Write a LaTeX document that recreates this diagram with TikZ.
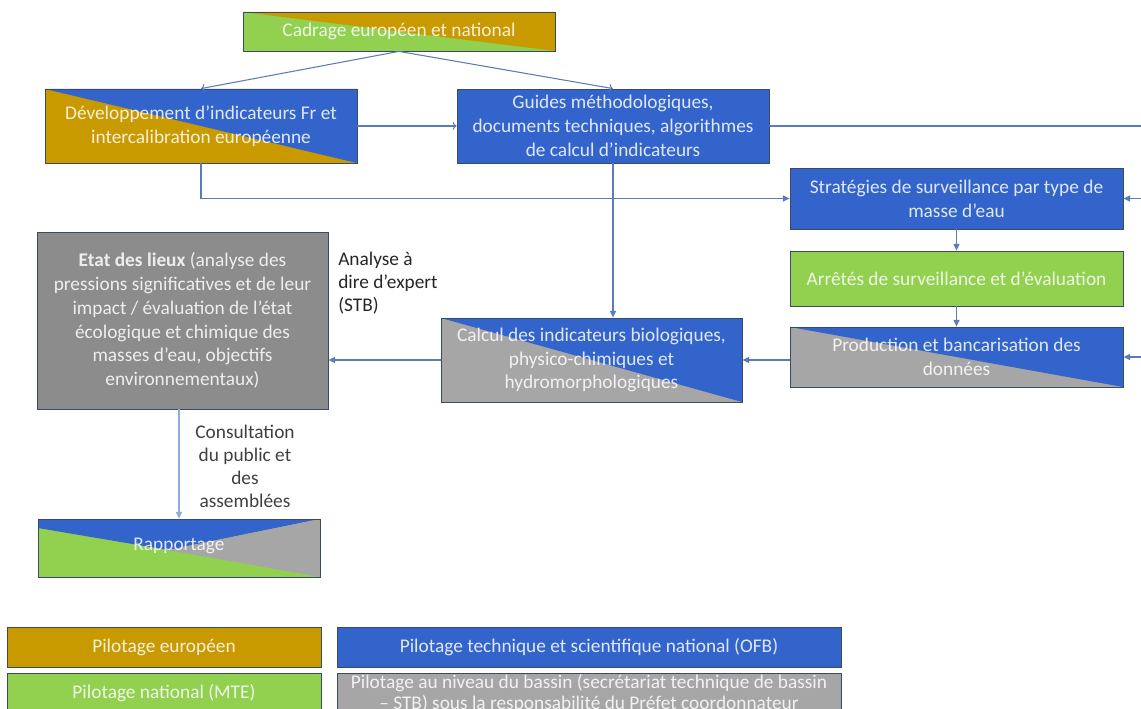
\documentclass[tikz,border=0pt]{standalone}
\usepackage{fontspec}
\setmainfont{Carlito}
\usetikzlibrary{calc,arrows.meta}
\definecolor{cgold}{RGB}{201,153,0}
\definecolor{cgreen}{RGB}{146,208,80}
\definecolor{cblue}{RGB}{50,100,204}
\definecolor{cgray}{RGB}{166,166,166}
\definecolor{cdgray}{RGB}{140,140,140}
\definecolor{cborder}{RGB}{60,75,100}
\definecolor{cline}{RGB}{90,125,185}
\definecolor{clight}{RGB}{143,170,220}
\begin{document}
\begin{tikzpicture}[x=0.75pt,y=-0.75pt,
  box/.style={draw=cborder, line width=0.6pt, text=white, text opacity=0.85,
    align=center, font=\fontsize{14.5}{17.8}\selectfont, inner sep=0pt},
  legbox/.style={box, font=\fontsize{14.5}{15.75}\selectfont},
  upright/.style={path picture={\fill[#1] (path picture bounding box.north west)
    -- (path picture bounding box.north east) -- (path picture bounding box.south east) -- cycle;}},
  conn/.style={draw=cline, line width=0.8pt},
  fa/.style={conn,-{Triangle[length=5pt,width=4.5pt]}},
  oa/.style={conn,-{To[length=3pt,width=6pt]}},
  lbl/.style={font=\fontsize{14.5}{17.3}\selectfont, text=black!85, inner sep=0pt}
]
\useasboundingbox (0,0) rectangle (1141,709);
\clip (0,0) rectangle (1141,709);

\node[box, fill=cgreen, upright=cgold, minimum width=234pt, minimum height=29.25pt]
  (cadrage) at (399,31.5) {Cadrage européen et national};
\node[box, fill=cgold, upright=cblue, minimum width=234pt, minimum height=55.5pt]
  (dev) at (201,126) {Développement d’indicateurs Fr et\\intercalibration européenne};
\node[box, fill=cblue, minimum width=234pt, minimum height=55.5pt]
  (guides) at (613,126) {Guides méthodologiques,\\documents techniques, algorithmes\\de calcul d’indicateurs};
\node[box, fill=cblue, minimum width=249.75pt, minimum height=45.75pt]
  (strat) at (956.5,198.5) {Stratégies de surveillance par type de\\masse d’eau};
\node[box, fill=cgreen, minimum width=249.75pt, minimum height=41.25pt]
  (arretes) at (956.5,278.5) {Arrêtés de surveillance et d’évaluation};
\node[box, fill=cgray, upright=cblue, minimum width=249.75pt, minimum height=45pt]
  (prod) at (956.5,357) {Production et bancarisation des\\données};
\node[box, fill=cgray, upright=cblue, minimum width=225.75pt, minimum height=63pt]
  (calcul) at (591.5,360) {Calcul des indicateurs biologiques,\\physico-chimiques et\\hydromorphologiques};
\node[box, fill=cdgray, minimum width=218.25pt, minimum height=132.75pt]
  (etat) at (182.5,320.5) {\textbf{Etat des lieux} (analyse des\\pressions significatives et de leur\\impact / évaluation de l’état\\écologique et chimique des\\masses d’eau, objectifs\\environnementaux)};
\node[box, fill=cgreen, minimum width=211.5pt, minimum height=43.5pt,
  path picture={
    \fill[cblue] (path picture bounding box.north west)
      -- ($(path picture bounding box.north west)+(0,9)$)
      -- ($(path picture bounding box.north west)+(130,31)$)
      -- (path picture bounding box.north east) -- cycle;
    \fill[cgray] ($(path picture bounding box.north west)+(130,31)$)
      -- (path picture bounding box.north east)
      -- (path picture bounding box.south east) -- cycle;}]
  (rapport) at (179,548) {\raisebox{6pt}{Rapportage}};

\node[legbox, fill=cgold, minimum width=235.5pt, minimum height=30pt]
  (leg1) at (164,647) {Pilotage européen};
\node[legbox, fill=cgreen, minimum width=235.5pt, minimum height=30pt]
  (leg2) at (164,693) {Pilotage national (MTE)};
\node[legbox, fill=cblue, minimum width=378pt, minimum height=30pt]
  (leg3) at (589,647) {Pilotage technique et scientifique national (OFB)};
\node[legbox, fill=cgray, minimum width=378pt, minimum height=30.75pt]
  (leg4) at (589,693.5) {Pilotage au niveau du bassin (secrétariat technique de bassin\\– STB) sous la responsabilité du Préfet coordonnateur};

\node[lbl, align=left, anchor=north west] (lexp) at (338,252) {Analyse à\\dire d’expert\\(STB)};
\node[lbl, align=center, text=black!75] (lcons) at (245,466) {Consultation\\du public et\\des\\assemblées};

\coordinate (rout) at (1141,126);
\coordinate (rin1) at (1141,198.5);
\coordinate (rin2) at (1141,357);

\draw[oa] (cadrage.south) -- (dev.north);
\draw[oa] (cadrage.south) -- (guides.north);
\draw[oa] (dev.east) -- (guides.west);
\draw[conn] (guides.east) -- (rout);
\draw[fa] (rin1) -- (strat.east);
\draw[fa] (rin2) -- (prod.east);
\draw[fa] (dev.south) |- (strat.west);
\draw[fa] (guides.south) -- (guides.south |- calcul.north);
\draw[fa] (strat.south) -- (arretes.north);
\draw[fa] (arretes.south) -- (prod.north);
\draw[fa] (prod.west |- calcul.east) -- (calcul.east);
\draw[fa] (calcul.west) -- (calcul.west -| etat.east);
\draw[fa, draw=clight] (etat.south -| rapport.north) -- (rapport.north);
\end{tikzpicture}
\end{document}
